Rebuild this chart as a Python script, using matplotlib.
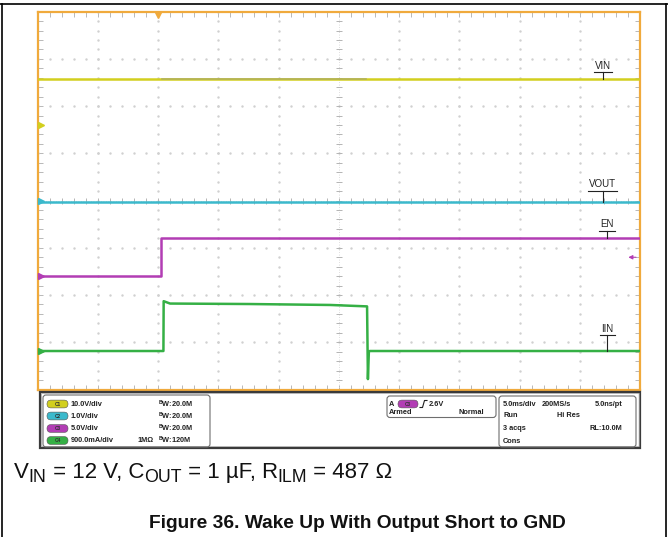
import matplotlib
matplotlib.use('Agg')
import matplotlib.pyplot as plt
import numpy as np
from matplotlib.patches import Rectangle, FancyBboxPatch

plt.rcParams['font.family'] = ['Liberation Sans', 'DejaVu Sans']
plt.rcParams['mathtext.fontset'] = 'custom'
plt.rcParams['mathtext.rm'] = 'Liberation Sans'
plt.rcParams['mathtext.bf'] = 'Liberation Sans:bold'

# time base: 5 ms/div, 10 div, trigger at t = 0
t_start, t_end = -10, 40
n_vdiv = 8

# traces, levels in screen divisions
vin_t = [-10, 40]
vin_y = [2.565, 2.565]
vout_t = [-10, 40]
vout_y = [-0.02, -0.02]
en_t = [-10, 0.27, 0.27, 40]
en_y = [-1.6, -1.6, -0.8, -0.8]
iin_t = [-10, 0.45, 0.47, 1.0, 7.6, 14.3, 17.35, 17.42, 17.5, 17.6, 40]
iin_y = [-3.185, -3.185, -2.13, -2.18, -2.19, -2.21, -2.24, -3.78, -3.19, -3.185, -3.185]

gnd_levels = [1.6, 0.0, -1.6, -3.185]
trig_level = -1.2

col_vin = '#d2cf1e'
col_vout = '#3bb9cc'
col_en = '#b23db4'
col_iin = '#35b045'
col_frame = '#f0aa3c'
ch_colors = [col_vin, col_vout, col_en, col_iin]

# channel readout
ch_names = ['C1', 'C2', 'C3', 'C4']
ch_scales = ['10.0V/div', '1.0V/div', '5.0V/div', '900.0mA/div']
ch_bw = ['20.0M', '20.0M', '20.0M', '120M']
ch_term = ['', '', '', '1MΩ']

# caption pieces: (text, subscript?)
caption = [('V', False), ('IN', True), (' = 12 V, C', False), ('OUT', True),
           (' = 1 µF, R', False), ('ILM', True), (' = 487 Ω', False)]
title = 'Figure 36. Wake Up With Output Short to GND'

fig = plt.figure(figsize=(6.68, 5.37), dpi=100)
W, H = 668, 537

# scope screen
x0, x1, y0, y1 = 37.5, 640, 11.7, 389.5
ax = fig.add_axes([x0 / W, 1 - y1 / H, (x1 - x0) / W, (y1 - y0) / H])
ax.set_xlim(t_start, t_end)
ax.set_ylim(-n_vdiv / 2, n_vdiv / 2)
for s in ax.spines.values():
    s.set_color(col_frame)
    s.set_linewidth(1.6)
ax.set_xticks(np.arange(t_start, t_end + 1, 5))
ax.set_xticks(np.arange(t_start, t_end + 0.5, 1), minor=True)
ax.set_yticks(np.arange(-4, 5, 1))
ax.set_yticks(np.arange(-4, 4.01, 0.2), minor=True)
ax.tick_params(which='both', direction='in', top=True, right=True,
               labelbottom=False, labelleft=False, color='#b8b8b8',
               length=3.5, width=0.7)

# dotted graticule
minor_x = np.arange(t_start, t_end + 0.5, 1)
minor_y = np.arange(-4, 4.01, 0.2)
for gx in range(t_start + 5, t_end, 5):
    if gx == 15:
        continue
    ax.plot(np.full_like(minor_y, gx), minor_y, ls='none', marker='.',
            ms=1.5, color='#d0d0d0')
for gy in range(-3, 4):
    if gy == 0:
        continue
    ax.plot(minor_x, np.full_like(minor_x, gy, dtype=float), ls='none',
            marker='.', ms=1.5, color='#d0d0d0')
# center cross with ticks
ax.axvline(15, color='#d4d4d4', lw=0.6, ls=(0, (1, 2)))
ax.axhline(0, color='#d4d4d4', lw=0.6, ls=(0, (1, 2)))
ax.plot(np.full_like(minor_y, 15), minor_y, ls='none', marker='_', ms=5,
        mew=0.7, color='#b4b4b4')
ax.plot(minor_x, np.zeros_like(minor_x, dtype=float), ls='none', marker='|',
        ms=5, mew=0.7, color='#b4b4b4')

# traces
ax.plot(vin_t, vin_y, color=col_vin, lw=1.8, zorder=5)
ax.plot([0.3, 17.3], [vin_y[0], vin_y[0]], color='#b2b25a', lw=1.2, zorder=5)
ax.plot(vout_t, vout_y, color=col_vout, lw=1.8, zorder=5)
ax.plot(en_t, en_y, color=col_en, lw=1.8, zorder=5)
ax.plot(iin_t, iin_y, color=col_iin, lw=1.8, zorder=5)

# ground markers, trigger markers
for lvl, c in zip(gnd_levels, ch_colors):
    ax.plot(-9.75, lvl, marker='>', ms=4, color=c, zorder=6, clip_on=False)
ax.plot(0, 3.93, marker='v', ms=5, color=col_frame, zorder=6, clip_on=False)
ax.annotate('', xy=(38.8, trig_level), xytext=(39.9, trig_level),
            arrowprops=dict(arrowstyle='-|>', color=col_en, lw=0.8,
                            mutation_scale=6))

# trace names, underlined with a lead to the trace
labels = [('VIN', 36.9, 2.72, vin_y[0]),
          ('VOUT', 36.9, 0.21, vout_y[0]),
          ('EN', 37.25, -0.64, en_y[-1]),
          ('IIN', 37.3, -2.85, iin_y[-1])]
fig.canvas.draw()
renderer = fig.canvas.get_renderer()
inv = ax.transData.inverted()
for name, lx, ly, lvl in labels:
    txt = ax.text(lx, ly + 0.03, name, ha='center', va='bottom', fontsize=7,
                  color='#222222', zorder=7)
    bb = txt.get_window_extent(renderer)
    xa = inv.transform((bb.x0 - 1, 0))[0]
    xb = inv.transform((bb.x1 + 1, 0))[0]
    ax.plot([xa, xb], [ly, ly], color='#222222', lw=0.8, zorder=7)
    ax.plot([lx, lx], [ly, lvl], color='#222222', lw=0.8, zorder=7)

# readout panel and page, in pixel coordinates
ov = fig.add_axes([0, 0, 1, 1], zorder=10)
ov.set_xlim(0, W)
ov.set_ylim(H, 0)
ov.axis('off')
ov.patch.set_alpha(0)

ov.plot([0, W], [4, 4], color='black', lw=1.2)
ov.plot([2, 2], [4, H], color='black', lw=1.2)
ov.plot([666, 666], [4, H], color='black', lw=1.2)

ov.add_patch(Rectangle((39.5, 391.5), 600.5, 56, fill=False, ec='#3a3a3a', lw=1.6))
ov.add_patch(Rectangle((41, 393), 597.5, 53, fill=False, ec='#a0a0a0', lw=0.5))
for (bx, by, bw, bh) in [(43, 395, 167, 52), (387, 396, 109, 21.5), (499, 396, 137, 51)]:
    ov.add_patch(FancyBboxPatch((bx, by), bw, bh,
                                boxstyle='round,pad=0,rounding_size=3',
                                fill=False, ec='#6e6e6e', lw=0.8))

fs = 5.3
tc = '#202020'
row_y = [404, 416, 428.5, 440.5]
for ry, nm, sc, bwl, term, c in zip(row_y, ch_names, ch_scales, ch_bw, ch_term, ch_colors):
    ov.add_patch(FancyBboxPatch((47, ry - 3.9), 21, 7.8,
                                boxstyle='round,pad=0,rounding_size=3.9',
                                fc=c, ec='#555555', lw=0.4))
    ov.text(57.5, ry, nm, ha='center', va='center', fontsize=3.4,
            color='#303030', fontweight='bold')
    ov.text(70.5, ry, sc, ha='left', va='center', fontsize=fs, fontweight='bold', color=tc)
    ov.text(158, ry, r'$^{\mathbf{B}}\mathbf{W}$:' + bwl, ha='left', va='center',
            fontsize=fs, fontweight='bold', color=tc)
    if term:
        ov.text(154, ry, term, ha='right', va='center', fontsize=fs,
                fontweight='bold', color=tc)

# trigger readout
ov.text(389, 404, 'A', ha='left', va='center', fontsize=fs, fontweight='bold', color=tc)
ov.add_patch(FancyBboxPatch((398, 400.1), 20, 7.8, boxstyle='round,pad=0,rounding_size=3.9',
                            fc=col_en, ec='#555555', lw=0.4))
ov.text(408, 404, 'C3', ha='center', va='center', fontsize=3.4, color='#303030',
        fontweight='bold')
ov.plot([420, 422.5, 424.5, 427], [407.5, 407.5, 400.5, 400.5], color=tc, lw=0.8)
ov.text(429, 404, '2.6V', ha='left', va='center', fontsize=fs, fontweight='bold', color=tc)
ov.text(389, 413, 'Armed', ha='left', va='center', fontsize=fs, fontweight='bold', color=tc)
ov.text(484, 413, 'Normal', ha='right', va='center', fontsize=fs, fontweight='bold', color=tc)

# acquisition readout
acq = [('5.0ms/div', 503, 404, 'left'), ('200MS/s', 542, 404, 'left'),
       ('5.0ns/pt', 622, 404, 'right'), ('Run', 503, 415.7, 'left'),
       ('Hi Res', 557, 415.7, 'left'), ('3 acqs', 503, 429, 'left'),
       ('RL:10.0M', 622, 429, 'right'), ('Cons', 503, 441.5, 'left')]
for s, tx, ty, ha in acq:
    ov.text(tx, ty, s, ha=ha, va='center', fontsize=fs, fontweight='bold', color=tc)

# caption, laid out piece by piece so the subscripts stay large
cx = 14
cap_fs = 16.0
for piece, sub in caption:
    size = cap_fs * 0.8 if sub else cap_fs
    yb = 482 if sub else 478
    t = ov.text(cx, yb, piece, ha='left', va='baseline', fontsize=size, color='#111111')
    bb = t.get_window_extent(renderer)
    cx += bb.width

ov.text(357, 524, title, ha='center', va='center', fontsize=13.8,
        fontweight='bold', color='#111111')

fig.savefig('out.png', dpi=100)
